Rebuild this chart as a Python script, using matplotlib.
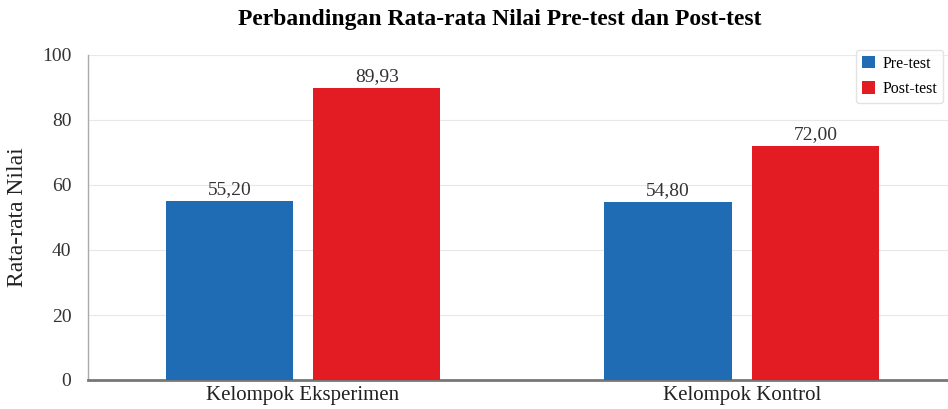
import matplotlib
matplotlib.use("Agg")
import matplotlib.pyplot as plt
import numpy as np

categories = ["Kelompok Eksperimen", "Kelompok Kontrol"]
pre_test = [55.20, 54.80]
post_test = [89.93, 72.00]
series_names = ["Pre-test", "Post-test"]

plt.rcParams['font.family'] = ['Liberation Serif', 'DejaVu Serif']

fig = plt.figure(figsize=(9.48, 4.09), dpi=100)
ax = fig.add_axes([88/948, 1-380/409, 1-88/948, 325/409])

x = np.arange(len(categories))
w = 0.29
off = 0.168
blue = "#1f6cb4"
red = "#e31b23"
b1 = ax.bar(x - off, pre_test, w, color=blue, label=series_names[0], zorder=3)
b2 = ax.bar(x + off, post_test, w, color=red, label=series_names[1], zorder=3)

for bars, vals in ((b1, pre_test), (b2, post_test)):
    for r, v in zip(bars, vals):
        ax.text(r.get_x() + r.get_width()/2, v + 0.8, f"{v:.2f}".replace(".", ","),
                ha="center", va="bottom", fontsize=14, color="#333333")

ax.set_xlim(-0.49, 1.47)
ax.set_ylim(0, 100)
ax.set_yticks([0, 20, 40, 60, 80, 100])
ax.set_xticks(x)
ax.set_xticklabels(categories, fontsize=15, color="#222222")
ax.tick_params(axis='y', labelsize=14, length=0, pad=12, labelcolor="#333333")
ax.tick_params(axis='x', length=0, pad=4)
ax.grid(axis='y', color="#e8e8e8", linewidth=0.8, zorder=0)
ax.set_axisbelow(True)
for s in ("top", "right"):
    ax.spines[s].set_visible(False)
ax.spines['left'].set_color("#aaaaaa")
ax.spines['left'].set_linewidth(1)
ax.spines['bottom'].set_color("#777777")
ax.spines['bottom'].set_linewidth(2)

ax.set_ylabel("Rata-rata Nilai", fontsize=17, labelpad=10, color="#222222")
fig.text(0.527, 1-20/409, "Perbandingan Rata-rata Nilai Pre-test dan Post-test",
         ha="center", va="center", fontsize=17, fontweight="bold")

leg = ax.legend(loc="upper left", bbox_to_anchor=(856/948, 1-50/409),
                bbox_transform=fig.transFigure, fontsize=11.5, frameon=True,
                handlelength=0.85, handleheight=0.85, borderpad=0.35,
                labelspacing=0.6, handletextpad=0.45, borderaxespad=0,
                fancybox=True)
leg.get_frame().set_edgecolor("#dddddd")

fig.savefig("out.png", dpi=100)
